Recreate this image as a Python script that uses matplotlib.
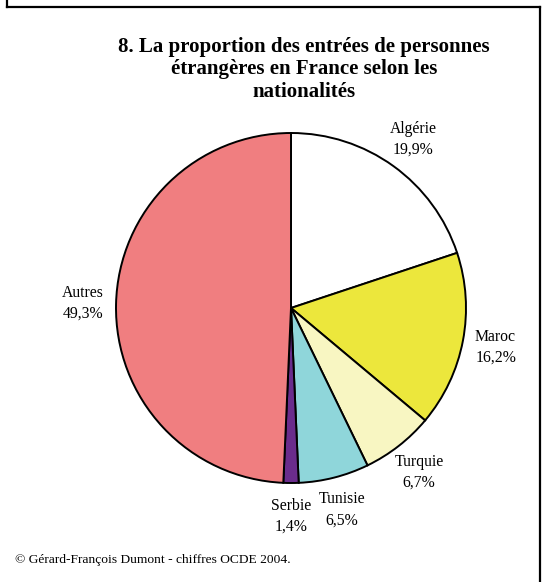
import matplotlib
matplotlib.use('Agg')
import matplotlib.pyplot as plt
from matplotlib.lines import Line2D

# données (%)
pays = ['Algérie', 'Maroc', 'Turquie', 'Tunisie', 'Serbie', 'Autres']
parts = [19.9, 16.2, 6.7, 6.5, 1.4, 49.3]
couleurs = ['#FFFFFF', '#ECE73C', '#F8F6C2', '#8FD6DA', '#6A2C8C', '#F07E80']

plt.rcParams['font.family'] = ['Liberation Serif', 'DejaVu Serif']

fig = plt.figure(figsize=(5.46, 5.82), dpi=100)
W, H = 546, 582

# cadre (gauche, haut, droite)
for xs, ys in [([7, 7], [0, 7]), ([7, 540], [7, 7]), ([540, 540], [7, H])]:
    fig.add_artist(Line2D([x / W for x in xs], [1 - y / H for y in ys],
                          color='black', lw=1.6, transform=fig.transFigure))

cx, cy, r = 291, 308, 175
ax = fig.add_axes([(cx - r) / W, 1 - (cy + r) / H, 2 * r / W, 2 * r / H])

etiquettes = [f'{p}\n{str(v).replace(".", ",")}%' for p, v in zip(pays, parts)]
wedges, textes = ax.pie(parts, labels=etiquettes, colors=couleurs,
                        startangle=90, counterclock=False,
                        labeldistance=1.19,
                        wedgeprops={'edgecolor': 'black', 'linewidth': 1.4},
                        textprops={'fontsize': 11.3, 'linespacing': 1.4})
for t in textes:
    t.set_ha('center')
    t.set_va('center')
ax.set_xlim(-1, 1)
ax.set_ylim(-1, 1)
ax.set_aspect('equal')

fig.text(304 / W, 1 - 37 / H,
         '8. La proportion des entrées de personnes\nétrangères en France selon les\nnationalités',
         ha='center', va='top', fontsize=15, fontweight='bold', linespacing=1.16)

fig.text(15 / W, 1 - 560 / H, '© Gérard-François Dumont - chiffres OCDE 2004.',
         ha='left', va='center', fontsize=9.7)

plt.savefig('out.png', dpi=100)
